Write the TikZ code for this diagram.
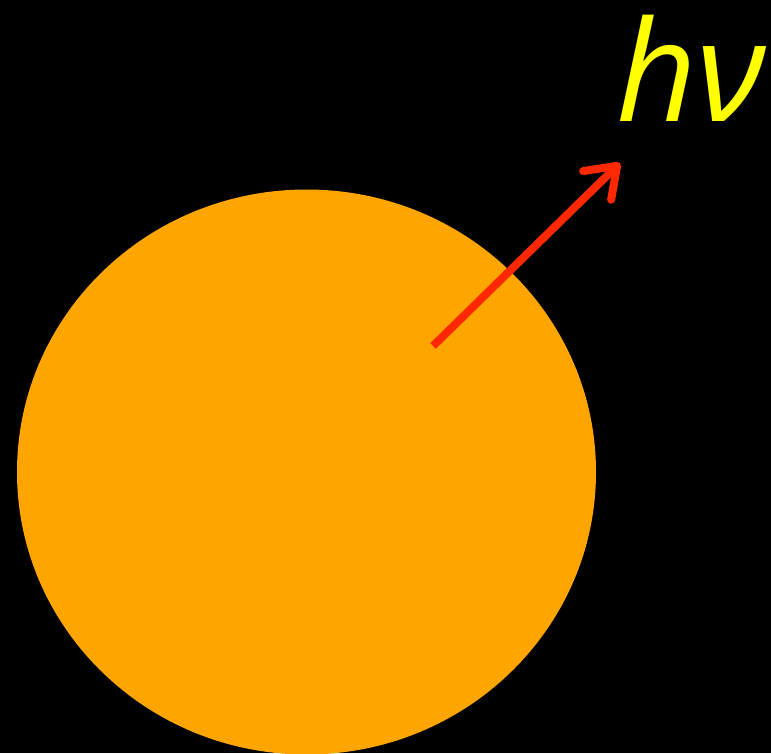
\documentclass[tikz,border=0pt]{standalone}
\usepackage{fontspec}
\newfontfamily\photonfont{Open Sans}
\usetikzlibrary{arrows.meta}
\definecolor{starorange}{RGB}{255,165,0}
\definecolor{rayred}{RGB}{255,40,0}
\definecolor{labelyellow}{RGB}{255,255,0}

\begin{document}
\begin{tikzpicture}[x=1pt,y=-1pt]
  \fill[black] (0,0) rectangle (771,753);
  \useasboundingbox (0,0) rectangle (771,753);
  \clip (0,0) rectangle (771,753);
  \coordinate (star) at (306.5,472);
  \fill[starorange] (star) ellipse [x radius=289.5, y radius=282.5];
  \coordinate (emit) at (433,346);
  \coordinate (tip) at (620,163);
  \draw[rayred,line width=8pt,-{Straight Barb[length=28pt,width=40pt,round]}] (emit) -- (tip);
  \node[labelyellow,anchor=base west,inner sep=0pt] (photon) at (616,121)
    {\photonfont\itshape\fontsize{140}{140}\selectfont hν};
\end{tikzpicture}
\end{document}
